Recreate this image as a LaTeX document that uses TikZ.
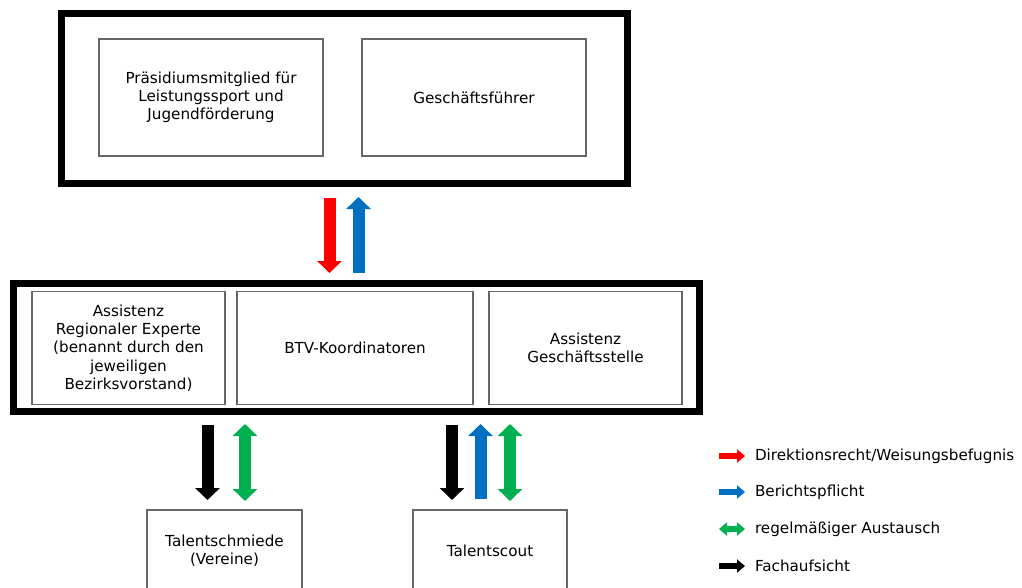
\documentclass[tikz,border=0pt]{standalone}
\usepackage{fontspec}
\setmainfont{DejaVu Sans}
\usetikzlibrary{arrows.meta}
\definecolor{arrred}{HTML}{FF0000}
\definecolor{arrblue}{HTML}{0070C0}
\definecolor{arrgreen}{HTML}{00B050}
\tikzset{
  BT/.tip={Triangle[length=12pt,width=24pt]},
  ST/.tip={Triangle[length=8pt,width=13pt]},
  outerbox/.style={draw, line width=7pt, inner sep=0pt},
  innerbox/.style={draw=black!60, line width=1.2pt, align=center, inner sep=2pt,
    font=\fontsize{15.2}{18.3}\selectfont},
  bigarrow/.style={line width=12pt},
  smallarrow/.style={line width=6pt, shorten >=10pt},
  legendtext/.style={anchor=west, inner sep=0pt, outer sep=0pt,
    font=\fontsize{15.2}{18.3}\selectfont}
}
\begin{document}
\begin{tikzpicture}[x=1pt,y=-1pt]
\clip (0,0) rectangle (1022,587);
\fill[white] (0,0) rectangle (1022,587);

% top group
\node[outerbox, minimum width=566pt, minimum height=170.5pt] (top) at (344,98.25) {};
\node[innerbox, minimum width=224pt, minimum height=117pt] (praes) at (211,97.5)
  {Präsidiumsmitglied für\\Leistungssport und\\Jugendförderung};
\node[innerbox, minimum width=224pt, minimum height=117pt] (gf) at (474,97.5)
  {Geschäftsführer};

% middle group
\node[outerbox, minimum width=685.5pt, minimum height=127.5pt] (mid) at (356.25,347.25) {};
\node[innerbox, minimum width=193pt, minimum height=113pt] (reg) at (128.5,348)
  {Assistenz\\Regionaler Experte\\(benannt durch den\\jeweiligen\\Bezirksvorstand)};
\node[innerbox, minimum width=236pt, minimum height=113pt] (btv) at (355,348)
  {BTV-Koordinatoren};
\node[innerbox, minimum width=193pt, minimum height=113pt] (gs) at (585.5,348)
  {Assistenz\\Geschäftsstelle};

% bottom boxes
\node[innerbox, minimum width=155pt, minimum height=82pt] (ts) at (224.5,551)
  {Talentschmiede\\(Vereine)};
\node[innerbox, minimum width=154pt, minimum height=82pt] (scout) at (490,551)
  {Talentscout};

% x positions of the arrows
\coordinate (xr) at (329.5,0);
\coordinate (xb) at (358.5,0);
\coordinate (xk1) at (207.5,0);
\coordinate (xg1) at (245,0);
\coordinate (xk2) at (452,0);
\coordinate (xb2) at (480.5,0);
\coordinate (xg2) at (510,0);

% top <-> middle
\draw[bigarrow, arrred, -BT, shorten <=11pt, shorten >=7pt] (top.south -| xr) -- (mid.north -| xr);
\draw[bigarrow, arrblue, -BT, shorten <=7pt, shorten >=10pt] (mid.north -| xb) -- (top.south -| xb);

% middle <-> Talentschmiede
\draw[bigarrow, black, -BT, shorten <=10.5pt, shorten >=9.4pt] (mid.south -| xk1) -- (ts.north -| xk1);
\draw[bigarrow, arrgreen, BT-BT, shorten <=9.5pt, shorten >=8.4pt] (mid.south -| xg1) -- (ts.north -| xg1);

% middle <-> Talentscout
\draw[bigarrow, black, -BT, shorten <=10.5pt, shorten >=9.4pt] (mid.south -| xk2) -- (scout.north -| xk2);
\draw[bigarrow, arrblue, -BT, shorten <=10pt, shorten >=9.5pt] (scout.north -| xb2) -- (mid.south -| xb2);
\draw[bigarrow, arrgreen, BT-BT, shorten <=9.5pt, shorten >=8.4pt] (mid.south -| xg2) -- (scout.north -| xg2);

% legend
\node[legendtext] (l1) at (755,456) {Direktionsrecht/Weisungsbefugnis};
\node[legendtext] (l2) at (755,492) {Berichtspflicht};
\node[legendtext] (l3) at (755,529) {regelmäßiger Austausch};
\node[legendtext] (l4) at (755,566) {Fachaufsicht};
\coordinate (s1) at (719,456);
\coordinate (s2) at (719,492);
\coordinate (s3) at (719,529);
\coordinate (s4) at (719,566);
\draw[smallarrow, arrred, -ST] (s1) -- (l1.west);
\draw[smallarrow, arrblue, -ST] (s2) -- (l2.west);
\draw[smallarrow, arrgreen, ST-ST] (s3) -- (l3.west);
\draw[smallarrow, black, -ST] (s4) -- (l4.west);
\end{tikzpicture}
\end{document}
